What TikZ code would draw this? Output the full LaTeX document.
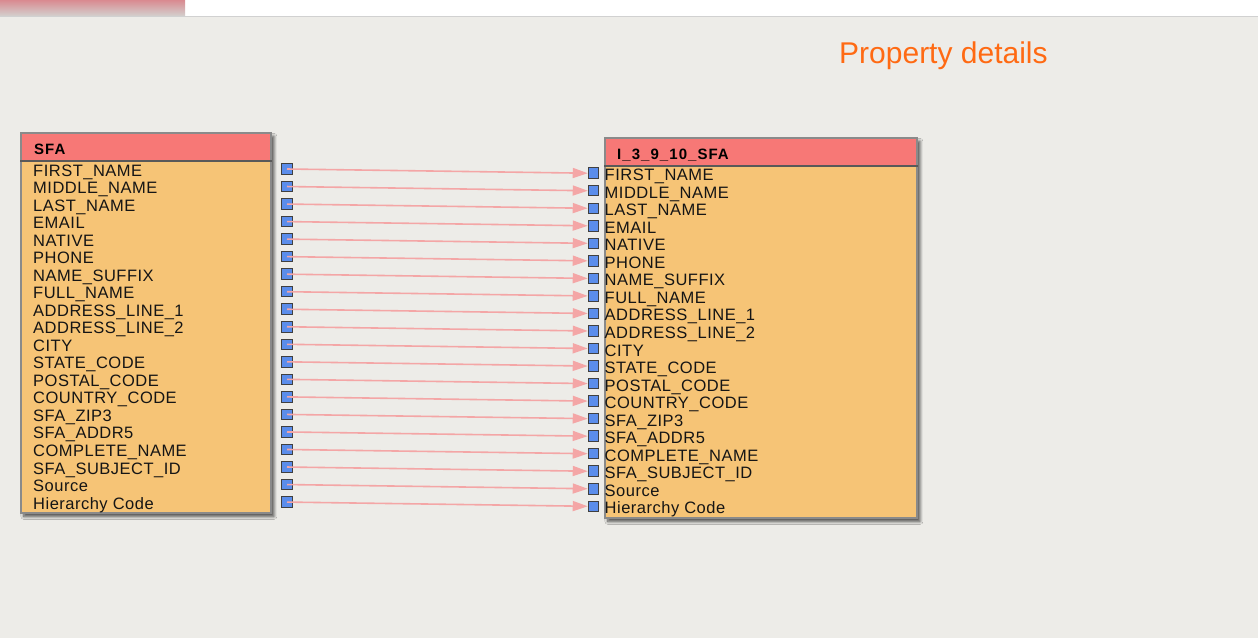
\documentclass[tikz,border=0pt]{standalone}
\usepackage{fontspec}
\setmainfont{Liberation Sans}
\newfontfamily\rowfont[LetterSpace=3]{Liberation Sans}
\newfontfamily\headfont[LetterSpace=7]{Liberation Sans}
\usetikzlibrary{arrows.meta,shadows.blur}
\definecolor{bgc}{HTML}{EDECE8}
\definecolor{headc}{HTML}{F77876}
\definecolor{bodyc}{HTML}{F6C476}
\definecolor{bordc}{HTML}{8A8A8A}
\definecolor{sqc}{HTML}{5B8DEB}
\definecolor{arrc}{HTML}{F4A6A6}
\definecolor{titc}{HTML}{FF6A13}
\definecolor{txtc}{HTML}{151515}
\definecolor{tabtop}{HTML}{D98A90}
\definecolor{tabbot}{HTML}{D3D0CE}
\tikzset{
  tablebox/.style={draw=bordc, line width=1.8pt, fill=bodyc, inner sep=0pt, anchor=north west,
    blur shadow={shadow xshift=3pt, shadow yshift=-3.5pt, shadow blur steps=8, shadow blur radius=3pt, shadow opacity=70}},
  headbox/.style={draw=bordc, line width=1.8pt, fill=headc, inner sep=0pt, anchor=north west},
  rowtext/.style={font=\rowfont\fontsize{16.5}{16.5}\selectfont, text=txtc, inner sep=0pt, anchor=base west},
  headtext/.style={font=\headfont\bfseries\fontsize{15}{15}\selectfont, text=black, inner sep=0pt, anchor=base west},
  port/.style={draw=black!75, line width=1pt, fill=sqc, minimum size=10.5pt, inner sep=0pt},
  link/.style={draw=arrc, line width=1.6pt, -{Triangle[length=15pt, width=10pt]}},
}
\begin{document}
\begin{tikzpicture}[x=1pt, y=-1pt]
\useasboundingbox (0,0) rectangle (1258,638);
\fill[bgc] (0,0) rectangle (1258,638);
% top bar
\fill[white] (185,0) rectangle (1258,16);
\shade[top color=tabtop, bottom color=tabbot] (0,0) rectangle (185,16);
\draw[black!18, line width=1.2pt] (0,16.5) -- (1258,16.5);
% title
\node[font=\fontsize{30}{30}\selectfont, text=titc, inner sep=0pt, anchor=base west] (title) at (839,63.3) {Property details};
% left table
\node[tablebox, minimum width=250pt, minimum height=380pt] (ltab) at (20,132) {};
\node[headbox, minimum width=250pt, minimum height=27.5pt] (lhead) at (20,132) {};
\draw[black!65, line width=1.8pt] (lhead.south west) -- (lhead.south east);
\node[headtext] (lname) at (34,154.3) {SFA};
% right table
\node[tablebox, minimum width=312pt, minimum height=380pt] (rtab) at (604,137) {};
\node[headbox, minimum width=312pt, minimum height=27.5pt] (rhead) at (604,137) {};
\draw[black!65, line width=1.8pt] (rhead.south west) -- (rhead.south east);
\node[headtext] (rname) at (617,159.5) {I\_3\_9\_10\_SFA};
% rows
\foreach \t [count=\i from 0] in {FIRST\_NAME, MIDDLE\_NAME, LAST\_NAME, EMAIL, NATIVE, PHONE, NAME\_SUFFIX, FULL\_NAME, ADDRESS\_LINE\_1, ADDRESS\_LINE\_2, CITY, STATE\_CODE, POSTAL\_CODE, COUNTRY\_CODE, SFA\_ZIP3, SFA\_ADDR5, COMPLETE\_NAME, SFA\_SUBJECT\_ID, Source, Hierarchy Code}{
  \pgfmathsetmacro\ly{176+17.53*\i}
  \pgfmathsetmacro\ry{180.7+17.53*\i}
  \node[rowtext] (L\i) at (33,\ly) {\t};
  \node[rowtext] (R\i) at (604.5,\ry) {\t};
  \node[port] (ls\i) at (287,\ly-7) {};
  \node[port] (rs\i) at (593.5,\ry-7.5) {};
  \draw[link] (ls\i.center) -- (rs\i.west);
}
\end{tikzpicture}
\end{document}
